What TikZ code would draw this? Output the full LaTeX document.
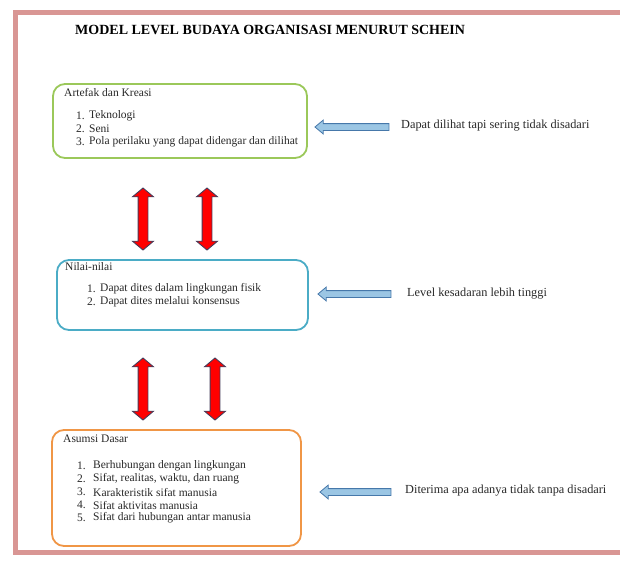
\documentclass[tikz,border=0pt]{standalone}
\usepackage{fontspec}
\setmainfont{Liberation Serif}
\usetikzlibrary{shapes.arrows}
\definecolor{framepink}{RGB}{217,150,148}
\definecolor{boxgreen}{RGB}{155,200,90}
\definecolor{boxblue}{RGB}{75,172,198}
\definecolor{boxorange}{RGB}{240,150,70}
\definecolor{arrowfill}{RGB}{155,198,228}
\definecolor{arrowedge}{RGB}{70,120,170}
\definecolor{redarrowedge}{RGB}{70,60,90}
\definecolor{txtgray}{RGB}{40,40,40}
\begin{document}
\begin{tikzpicture}[x=1pt,y=-1pt,
  levelbox/.style={draw, line width=1.8pt, rounded corners=12pt, inner sep=0pt, fill=white},
  boxtxt/.style={anchor=west, inner sep=0pt, text=txtgray, font=\fontsize{11.5}{13}\selectfont},
  sidetxt/.style={anchor=west, inner sep=0pt, text=txtgray, font=\fontsize{12.3}{14}\selectfont},
  blockarrow/.style={single arrow, rotate=180, draw=arrowedge, fill=arrowfill, line width=0.8pt,
    minimum width=13pt, single arrow head extend=3.5pt, inner sep=3pt, single arrow tip angle=80},
  redarrow/.style={double arrow, rotate=90, draw=redarrowedge, fill=red, line width=0.9pt,
    minimum height=62pt, minimum width=20pt, double arrow head extend=5.5pt, inner sep=4.5pt,
    double arrow tip angle=100}
]
\useasboundingbox (0,0) rectangle (620,565);
\fill[white] (0,0) rectangle (620,565);
\draw[framepink, line width=5pt] (15.5,12) rectangle (660,552);

\node[anchor=west, inner sep=0pt, font=\bfseries\fontsize{14}{16}\selectfont] (title) at (75,30)
  {MODEL LEVEL BUDAYA ORGANISASI MENURUT SCHEIN};

% Box 1
\node[levelbox, draw=boxgreen, minimum width=254pt, minimum height=74pt] (box1) at (180,121) {};
\node[boxtxt] (b1t) at (64,93) {Artefak dan Kreasi};
\node[boxtxt] (b1n1) at (76,116) {1.};
\node[boxtxt] (b1i1) at (89,116) {Teknologi};
\node[boxtxt] (b1n2) at (76,129) {2.};
\node[boxtxt] (b1i2) at (89,129) {Seni};
\node[boxtxt] (b1n3) at (76,142) {3.};
\node[boxtxt] (b1i3) at (89,142) {Pola perilaku yang dapat didengar dan dilihat};

% Box 2
\node[levelbox, draw=boxblue, minimum width=251pt, minimum height=70pt] (box2) at (182.5,295) {};
\node[boxtxt] (b2t) at (65,267) {Nilai-nilai};
\node[boxtxt] (b2n1) at (87,289) {1.};
\node[boxtxt] (b2i1) at (100,289) {Dapat dites dalam lingkungan fisik};
\node[boxtxt] (b2n2) at (87,302) {2.};
\node[boxtxt] (b2i2) at (100,302) {Dapat dites melalui konsensus};

% Box 3
\node[levelbox, draw=boxorange, minimum width=249pt, minimum height=116pt] (box3) at (176.5,488) {};
\node[boxtxt] (b3t) at (63,439) {Asumsi Dasar};
\node[boxtxt] (b3n1) at (77,466) {1.};
\node[boxtxt] (b3i1) at (93,466) {Berhubungan dengan lingkungan};
\node[boxtxt] (b3n2) at (77,479) {2.};
\node[boxtxt] (b3i2) at (93,479) {Sifat, realitas, waktu, dan ruang};
\node[boxtxt] (b3n3) at (77,492) {3.};
\node[boxtxt] (b3i3) at (93,492) {Karakteristik sifat manusia};
\node[boxtxt] (b3n4) at (77,505) {4.};
\node[boxtxt] (b3i4) at (93,505) {Sifat aktivitas manusia};
\node[boxtxt] (b3n5) at (77,518) {5.};
\node[boxtxt] (b3i5) at (93,518) {Sifat dari hubungan antar manusia};

% Red double arrows
\node[redarrow] (ra1) at (143,219) {};
\node[redarrow] (ra2) at (207,219) {};
\node[redarrow] (ra3) at (143,389) {};
\node[redarrow] (ra4) at (215,389) {};

% Blue block arrows
\node[blockarrow, minimum height=74pt] (ba1) at (354,127) {};
\node[blockarrow, minimum height=73pt] (ba2) at (356.5,294) {};
\node[blockarrow, minimum height=71pt] (ba3) at (357.5,492) {};

% Side texts
\node[sidetxt] (s1) at (401,126) {Dapat dilihat tapi sering tidak disadari};
\node[sidetxt] (s2) at (407,294) {Level kesadaran lebih tinggi};
\node[sidetxt] (s3) at (405,491) {Diterima apa adanya tidak tanpa disadari};
\end{tikzpicture}
\end{document}
